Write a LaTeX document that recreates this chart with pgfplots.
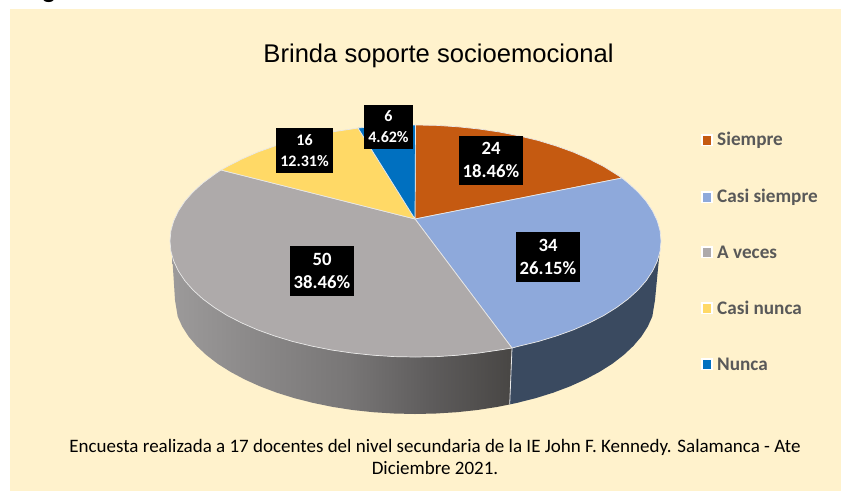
\documentclass[border=0pt]{standalone}
\usepackage{pgfplots}
\pgfplotsset{compat=1.18}
\usepackage{fontspec}
\setmainfont{Carlito}
\newfontfamily\arialf{Liberation Sans}
\definecolor{cream}{HTML}{FFF2CC}
\definecolor{csi}{HTML}{C55A11}
\definecolor{ccs}{HTML}{8EA9DB}
\definecolor{cav}{HTML}{AEAAAA}
\definecolor{ccn}{HTML}{FFD966}
\definecolor{cnu}{HTML}{0070C0}
\definecolor{wallblue}{HTML}{3A4A60}
\definecolor{edge}{HTML}{E8E8E8}
\definecolor{legtext}{HTML}{595959}
\definecolor{wa}{HTML}{9C9A9A}
\definecolor{wb}{HTML}{8C8A8A}
\definecolor{wc}{HTML}{787676}
\definecolor{wd}{HTML}{5E5C5C}
\definecolor{we}{HTML}{484644}
\pgfdeclarehorizontalshading{wallgray}{100bp}{
 color(0bp)=(wa); color(25bp)=(wa); color(36bp)=(wb); color(51bp)=(wc); color(63bp)=(wd); color(75bp)=(we); color(100bp)=(we)}
\begin{document}
\begin{tikzpicture}
\path[use as bounding box] (0,0) rectangle (841pt,491pt);
\begin{axis}[at={(0,0)},anchor=south west,scale only axis,width=841pt,height=491pt,
 xmin=0,xmax=841,ymin=0,ymax=491,y dir=reverse,hide axis,clip=false]
% background
\addplot[fill=cream,draw=none] coordinates {(10,9)(841,9)(841,491)(10,491)} -- cycle;
% gray wall
\addplot[draw=none,shade,shading=wallgray] coordinates {
(172,253)(173.7,261.1)(178.4,271.0)(184.8,280.7)(193.0,290.0)(202.9,299.0)(214.4,307.5)(227.4,315.6)(241.9,323.0)(257.7,329.9)(274.7,336.0)(292.7,341.5)(311.8,346.1)(331.5,350.0)(352.0,353.0)(372.9,355.2)(394.1,356.6)(415.5,357)(436.9,356.6)(458.1,355.2)(479.0,353.0)(499.5,350.0)(512,348)
(509.7,404.4)(497.4,406.9)(477.4,410)(456.8,412.2)(436,413.5)(415,414)(394,413.5)(373.2,412.2)(352.6,410)(332.6,406.9)(313.1,402.9)(294.5,398.2)(276.8,392.7)(260.1,386.4)(244.6,379.4)(230.4,371.8)(217.6,363.7)(206.3,355)(196.6,345.9)(188.5,336.4)(182.2,326.5)(177.7,316.5)(175,300)} -- cycle;
% blue wall
\addplot[fill=wallblue,draw=none] coordinates {
(512,348)(519.2,346.1)(538.3,341.5)(556.3,336.0)(573.3,329.9)(589.1,323.0)(603.6,315.6)(616.6,307.5)(628.1,299.0)(638.0,290.0)(646.2,280.7)(652.6,271.0)(657.3,261.1)(659.5,253)
(655,300)(652.3,316.5)(647.8,326.5)(641.5,336.4)(633.4,345.9)(623.7,355)(612.4,363.7)(599.6,371.8)(585.4,379.4)(569.9,386.4)(553.2,392.7)(535.5,398.2)(516.9,402.9)(509.7,404.4)} -- cycle;
\addplot[draw=edge,line width=0.8pt] coordinates {(512,348)(509.7,404.4)};
% top slices
\addplot[fill=csi,draw=edge,line width=0.7pt] coordinates {
(415,219)(415.5,125)(436.9,125.4)(458.1,126.8)(479.0,129.0)(499.5,132.0)(519.2,135.9)(538.3,140.5)(556.3,146.0)(573.3,152.1)(589.1,159.0)(603.6,166.4)(616.6,174.5)(622,178)} -- cycle;
\addplot[fill=ccs,draw=edge,line width=0.7pt] coordinates {
(415,219)(622,178)(628.1,183.0)(638.0,192.0)(646.2,201.3)(652.6,211.0)(657.3,220.9)(660.1,230.9)(661,241)(660.1,251.1)(657.3,261.1)(652.6,271.0)(646.2,280.7)(638.0,290.0)(628.1,299.0)(616.6,307.5)(603.6,315.6)(589.1,323.0)(573.3,329.9)(556.3,336.0)(538.3,341.5)(519.2,346.1)(512,348)} -- cycle;
\addplot[fill=cav,draw=edge,line width=0.7pt] coordinates {
(415,219)(512,348)(499.5,350.0)(479.0,353.0)(458.1,355.2)(436.9,356.6)(415.5,357)(394.1,356.6)(372.9,355.2)(352.0,353.0)(331.5,350.0)(311.8,346.1)(292.7,341.5)(274.7,336.0)(257.7,329.9)(241.9,323.0)(227.4,315.6)(214.4,307.5)(202.9,299.0)(193.0,290.0)(184.8,280.7)(178.4,271.0)(173.7,261.1)(170.9,251.1)(170,241)(170.9,230.9)(173.7,220.9)(178.4,211.0)(184.8,201.3)(193.0,192.0)(202.9,183.0)(214.4,174.5)(221,170)} -- cycle;
\addplot[fill=ccn,draw=edge,line width=0.7pt] coordinates {
(415,219)(221,170)(227.4,166.4)(241.9,159.0)(257.7,152.1)(274.7,146.0)(292.7,140.5)(311.8,135.9)(331.5,132.0)(352.0,129.0)(358,128)} -- cycle;
\addplot[fill=cnu,draw=edge,line width=0.7pt] coordinates {
(415,219)(358,128)(372.9,126.8)(394.1,125.4)(415.5,125)} -- cycle;
% legend markers
\addplot[only marks,mark=square*,mark size=5.5pt,color=white] coordinates {(706.5,140)(706.5,197)(706.5,252)(706.5,308)(706.5,364)};
\addplot[only marks,mark=square*,mark size=3.8pt,color=csi] coordinates {(706.5,140)};
\addplot[only marks,mark=square*,mark size=3.8pt,color=ccs] coordinates {(706.5,197)};
\addplot[only marks,mark=square*,mark size=3.8pt,color=cav] coordinates {(706.5,252)};
\addplot[only marks,mark=square*,mark size=3.8pt,color=ccn] coordinates {(706.5,308)};
\addplot[only marks,mark=square*,mark size=3.8pt,color=cnu] coordinates {(706.5,364)};
% legend text
\begin{scope}[every node/.style={anchor=west,text=legtext,inner sep=0pt,font=\fontsize{19.2}{22}\selectfont\bfseries}]
\node at (axis cs:717,140) {Siempre};
\node at (axis cs:717,197) {Casi siempre};
\node at (axis cs:717,252) {A veces};
\node at (axis cs:717,308) {Casi nunca};
\node at (axis cs:717,364) {Nunca};
\end{scope}
% data labels
\begin{scope}[every node/.style={fill=black,text=white,align=center,inner sep=0pt,font=\fontsize{18.7}{23}\selectfont\bfseries}]
\node[minimum width=64pt,minimum height=49pt] at (axis cs:491,160) {24\\18.46\%};
\node[minimum width=64pt,minimum height=50pt] at (axis cs:548,257) {34\\26.15\%};
\node[minimum width=64pt,minimum height=50pt] at (axis cs:322,271) {50\\38.46\%};
\node[minimum width=57pt,minimum height=45pt,font=\fontsize{16}{21}\selectfont\bfseries] at (axis cs:304.5,150.5) {16\\12.31\%};
\node[minimum width=49pt,minimum height=44pt,font=\fontsize{16}{21}\selectfont\bfseries] at (axis cs:388.5,127) {6\\4.62\%};
\end{scope}
% texts
\node[font=\arialf\fontsize{25.6}{28}\selectfont] at (axis cs:438.5,56) {Brinda soporte socioemocional};
\node[align=center,font=\fontsize{19}{22}\selectfont] at (axis cs:435,457) {Encuesta realizada a 17 docentes del nivel secundaria de la IE John F. Kennedy. Salamanca - Ate\\Diciembre 2021.};
\end{axis}
\begin{scope}
\clip (0,0) rectangle (841pt,491pt);
\node[anchor=base west,inner sep=0pt,font=\arialf\bfseries\fontsize{24}{26}\selectfont] at (20pt,493pt) {Figura};
\end{scope}
\end{tikzpicture}
\end{document}
